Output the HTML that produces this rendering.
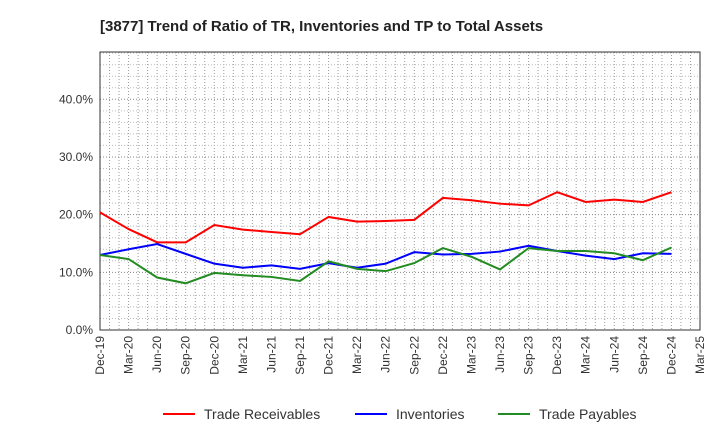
<!DOCTYPE html>
<html><head><meta charset="utf-8"><style>
body{margin:0;background:#fff;font-family:"Liberation Sans",sans-serif}
</style></head><body>
<svg id="c" width="720" height="440" xmlns="http://www.w3.org/2000/svg">
<text x="100" y="31" font-size="15" font-weight="bold" fill="#222">[3877]  Trend of Ratio of TR, Inventories and TP to Total Assets</text>
<g id="grid"></g><g id="axes"></g><g id="series"></g><g id="legend"></g>
</svg>
<script>
const xLabels=["Dec-19","Mar-20","Jun-20","Sep-20","Dec-20","Mar-21","Jun-21","Sep-21","Dec-21","Mar-22","Jun-22","Sep-22","Dec-22","Mar-23","Jun-23","Sep-23","Dec-23","Mar-24","Jun-24","Sep-24","Dec-24","Mar-25"];
const yTicks=[0,10,20,30,40];
const tradeReceivables=[20.4,17.5,15.2,15.2,18.2,17.4,17.0,16.6,19.6,18.8,18.9,19.1,22.9,22.5,21.9,21.6,23.9,22.2,22.6,22.2,23.9];
const inventories=[13.0,14.0,14.9,13.2,11.5,10.8,11.2,10.6,11.6,10.8,11.5,13.5,13.1,13.2,13.6,14.6,13.7,12.9,12.3,13.3,13.2];
const tradePayables=[13.0,12.3,9.1,8.1,9.9,9.5,9.2,8.5,11.9,10.6,10.2,11.6,14.2,12.7,10.5,14.2,13.7,13.7,13.3,12.1,14.3];
const L=100,R=700,T=52,B=330,YMAX=48.2;
const NS="http://www.w3.org/2000/svg";
const step=(R-L)/(xLabels.length-1);
const xs=i=>L+i*step, ys=v=>B-v/YMAX*(B-T);
function mk(t,a,p){const e=document.createElementNS(NS,t);for(const k in a)e.setAttribute(k,a[k]);p.appendChild(e);return e;}
const grid=document.getElementById('grid'),axes=document.getElementById('axes'),ser=document.getElementById('series'),leg=document.getElementById('legend');
for(let m=1;m<(xLabels.length-1)*3;m++){const x=L+m*step/3;
 const g=mk('line',{x1:x,x2:x,y1:T,y2:B,stroke:'#999','stroke-width':1,'stroke-dasharray':'1,2'},grid);
 }
for(let v=2;v<YMAX;v+=2){const y=ys(v);
 const g=mk('line',{x1:L,x2:R,y1:y,y2:y,stroke:v%10==0?'#888':'#bbb','stroke-width':1,'stroke-dasharray':'1,2'},grid);
 }
const fr=mk('rect',{x:L,y:T,width:R-L,height:B-T,fill:'none',stroke:'#333','stroke-width':1},axes);

yTicks.forEach(v=>{const t=mk('text',{x:L-7,y:ys(v)+4,'text-anchor':'end','font-size':12,fill:'#333'},axes);t.textContent=v.toFixed(1)+'%';
 });
xLabels.forEach((s,i)=>{const x=xs(i);const t=mk('text',{transform:`translate(${x+4},${B+6}) rotate(-90)`,'text-anchor':'end','font-size':12,fill:'#333'},axes);t.textContent=s;
 });
const series=[[tradeReceivables,'#ff0000','Trade Receivables',163],[inventories,'#0000ff','Inventories',355],[tradePayables,'#228b22','Trade Payables',498]];
series.forEach(([d,c,n,lx])=>{
 const p=mk('polyline',{points:d.map((v,i)=>xs(i)+','+ys(v)).join(' '),fill:'none',stroke:c,'stroke-width':2},ser);
 
 const l=mk('line',{x1:lx,x2:lx+32,y1:414,y2:414,stroke:c,'stroke-width':2},leg);
 
 const t=mk('text',{x:lx+41,y:419,'font-size':14,fill:'#333'},leg);t.textContent=n;
 
});
</script>
</body></html>
